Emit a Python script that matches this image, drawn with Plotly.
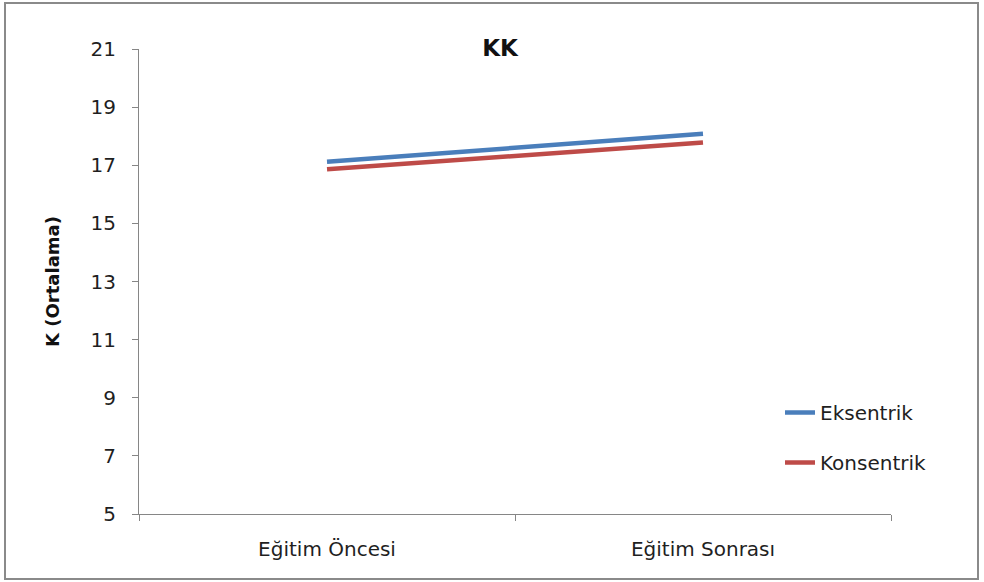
import plotly.graph_objects as go

categories = ["Eğitim Öncesi", "Eğitim Sonrası"]
eksentrik = [17.12, 18.08]
konsentrik = [16.86, 17.78]
series_names = ["Eksentrik", "Konsentrik"]
colors = ["#4A7EBB", "#BE4B48"]

W, H = 984, 582
L, R, T, B = 139, 93, 49, 68
PW, PH = W - L - R, H - T - B

fig = go.Figure()
for i, (name, vals) in enumerate(zip(series_names, [eksentrik, konsentrik])):
    fig.add_trace(go.Scatter(
        x=categories, y=vals, mode="lines", name=name,
        legendgroup=name,
        line=dict(color=colors[i], width=4.5),
    ))

font_family = "'DejaVu Sans', sans-serif"
txt = "#1f1f1f"
fig.update_layout(
    width=W, height=H,
    margin=dict(l=L, r=R, t=T, b=B, autoexpand=False),
    paper_bgcolor="white", plot_bgcolor="white",
    font=dict(family=font_family, size=20, color=txt),
    title=dict(text="<b>KK</b>", x=500 / W, xanchor="center",
               y=1 - 48 / H, yanchor="middle", font=dict(size=23, color="#111")),
    showlegend=True,
    legend=dict(x=(780 - L) / PW, y=(514 - 393) / PH, xanchor="left", yanchor="top",
                bgcolor="rgba(0,0,0,0)", font=dict(size=20, color=txt),
                tracegroupgap=21, traceorder="grouped", itemwidth=30),
    xaxis=dict(type="category", range=[-0.5, 1.5], showline=True, linecolor="#868686", linewidth=1,
               ticks="outside", tickson="boundaries", ticklen=6, tickcolor="#868686",
               ticklabelstandoff=17,
               showgrid=False, zeroline=False, tickfont=dict(size=20, color=txt)),
    yaxis=dict(range=[5, 21], tickvals=[5, 7, 9, 11, 13, 15, 17, 19, 21], showline=True,
               linecolor="#868686", linewidth=1, ticks="outside", ticklen=6, tickcolor="#868686",
               ticklabelstandoff=12,
               showgrid=False, zeroline=False, tickfont=dict(size=20, color=txt),
               title=dict(text="<b>K (Ortalama)</b>", font=dict(size=18, color="#111"), standoff=26)),
)

# outer chart border
fig.add_shape(type="rect", xref="paper", yref="paper",
              x0=(5 - L) / PW, x1=(978 - L) / PW,
              y0=(H - B - 579) / PH, y1=(H - B - 3) / PH,
              line=dict(color="#8a8a8a", width=2), fillcolor="rgba(0,0,0,0)", layer="below")

fig.write_html("out.html", config={"displayModeBar": False},
               post_script="document.body.style.margin='0';document.body.style.padding='0';")
